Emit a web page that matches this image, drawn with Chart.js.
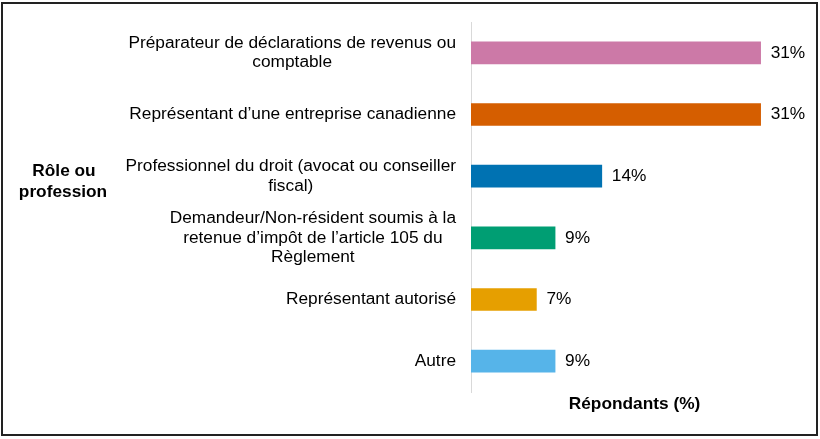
<!DOCTYPE html>
<html>
<head>
<meta charset="utf-8">
<script src="https://cdn.jsdelivr.net/npm/chart.js@4"></script>
<style>
  html, body { margin: 0; padding: 0; background: #fff; }
  #wrap { width: 820px; height: 439px; }
</style>
</head>
<body>
<div id="wrap"><canvas id="graficoBarras"></canvas></div>
<script>
// DONNÉES
const categories = [
    ['Préparateur de déclarations de revenus ou', 'comptable'],
    ['Représentant d’une entreprise canadienne'],
    ['Professionnel du droit (avocat ou conseiller', 'fiscal)'],
    ['Demandeur/Non-résident soumis à la', 'retenue d’impôt de l’article 105 du', 'Règlement'],
    ['Représentant autorisé'],
    ['Autre']
];
const valeurs = [31, 31, 14, 9, 7, 9];
const couleurs = ['#CC79A7', '#D55E00', '#0072B2', '#009E73', '#E69F00', '#56B4E9'];
const titreY = ['Rôle ou', 'profession'];
const titreX = 'Répondants (%)';

const police = 'Arial, "Liberation Sans", sans-serif';

// ÉTIQUETTES, TITRES ET CADRE
const dessinTextes = {
    id: 'dessinTextes',
    afterDraw(chart) {
        const ctx = chart.ctx;
        const area = chart.chartArea;
        const yScale = chart.scales.y;
        const meta = chart.getDatasetMeta(0);
        ctx.save();
        ctx.fillStyle = '#000';
        ctx.textBaseline = 'middle';

        // étiquettes des catégories
        ctx.font = '17.3px ' + police;
        ctx.textAlign = 'center';
        const droite = area.left - 15;
        const interligne = 19.5;
        categories.forEach((lignes, i) => {
            const largeur = Math.max(...lignes.map(l => ctx.measureText(l).width));
            const cx = droite - largeur / 2;
            const cy = yScale.getPixelForValue(i);
            const y0 = cy - (lignes.length - 1) * interligne / 2;
            lignes.forEach((l, k) => ctx.fillText(l, cx, y0 + k * interligne));
        });

        // valeurs
        ctx.textAlign = 'left';
        meta.data.forEach((bar, i) => {
            ctx.fillText(valeurs[i] + '%', bar.x + 10, bar.y);
        });

        // titres
        ctx.font = 'bold 17.3px ' + police;
        ctx.textAlign = 'center';
        ctx.fillText(titreY[0], 64, 171);
        ctx.fillText(titreY[1], 63, 192);
        ctx.fillText(titreX, (area.left + area.right) / 2, 404);

        // cadre
        ctx.strokeStyle = '#222';
        ctx.lineWidth = 2;
        ctx.strokeRect(2, 3, 815, 432);
        ctx.restore();
    }
};

const barras = document.getElementById('graficoBarras');
new Chart(barras, {
    type: 'bar',
    data: {
        labels: categories,
        datasets: [{
            data: valeurs,
            backgroundColor: couleurs,
            barThickness: 22
        }]
    },
    options: {
        indexAxis: 'y',
        responsive: true,
        maintainAspectRatio: false,
        animation: false,
        layout: { padding: { top: 22, right: 22, bottom: 47, left: 0 } },
        plugins: { legend: { display: false }, tooltip: { enabled: false } },
        scales: {
            x: { display: false, min: 0, max: 35 },
            y: {
                grid: { display: false },
                border: { display: true, color: '#d9d9d9', width: 1 },
                ticks: { display: false },
                afterFit(scale) { scale.width = 471; }
            }
        }
    },
    plugins: [dessinTextes]
});
</script>
</body>
</html>
